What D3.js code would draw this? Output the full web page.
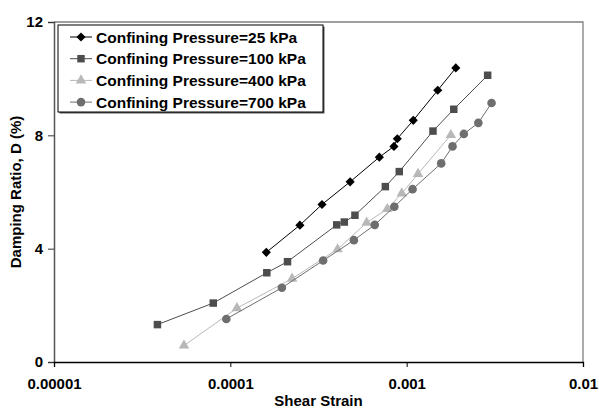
<!DOCTYPE html>
<html><head><meta charset="utf-8">
<script src="https://cdn.jsdelivr.net/npm/d3@7"></script>
<style>body{margin:0;background:#fff}svg{display:block}text{font-family:"Liberation Sans",Arial,sans-serif;font-weight:bold}</style>
</head><body><svg id="c" width="599" height="408"></svg>
<script>
const names = ["Confining Pressure=25 kPa","Confining Pressure=100 kPa","Confining Pressure=400 kPa","Confining Pressure=700 kPa"];
const x25 = [1.60e-4,2.48e-4,3.31e-4,4.78e-4,7.00e-4,8.47e-4,8.85e-4,1.09e-3,1.50e-3,1.90e-3];
const y25 = [3.87,4.83,5.56,6.36,7.23,7.61,7.88,8.53,9.59,10.38];
const x100 = [3.86e-5,8.00e-5,1.61e-4,2.11e-4,4.01e-4,4.43e-4,5.09e-4,7.57e-4,9.08e-4,1.41e-3,1.85e-3,2.88e-3];
const y100 = [1.32,2.08,3.15,3.54,4.84,4.94,5.18,6.19,6.72,8.15,8.92,10.12];
const x400 = [5.46e-5,1.09e-4,2.24e-4,4.06e-4,5.93e-4,7.76e-4,9.38e-4,1.16e-3,1.78e-3];
const y400 = [0.58,1.90,2.94,3.98,4.92,5.40,5.95,6.64,8.01];
const x700 = [9.49e-5,1.96e-4,3.36e-4,5.02e-4,6.59e-4,8.51e-4,1.08e-3,1.57e-3,1.82e-3,2.11e-3,2.55e-3,3.03e-3];
const y700 = [1.52,2.62,3.58,4.30,4.84,5.48,6.10,7.01,7.61,8.05,8.44,9.14];
const xTicks = [0.00001,0.0001,0.001,0.01];
const xTickLabels = ["0.00001","0.0001","0.001","0.01"];
const yTicks = [0,4,8,12];

const series = [
  {name:names[0], xs:x25, ys:y25, color:"#000000", sym:"diamond"},
  {name:names[1], xs:x100, ys:y100, color:"#4d4d4d", sym:"square"},
  {name:names[2], xs:x400, ys:y400, color:"#b8b8b8", sym:"triangle"},
  {name:names[3], xs:x700, ys:y700, color:"#6e6e6e", sym:"circle"}
];

const svg = d3.select("#c");
const L=54, R=583, T=22, B=362;
const x = d3.scaleLog().domain([1e-5,1e-2]).range([L,R]);
const y = d3.scaleLinear().domain([0,12]).range([B,T]);
const FONT = "'Liberation Sans',Arial,sans-serif";

svg.append("path").attr("d",`M${L},${T}H${R}V${B}`).attr("fill","none").attr("stroke","#808080").attr("stroke-width",1.3);

const ya = svg.append("g").attr("transform",`translate(${L},0)`)
  .call(d3.axisLeft(y).tickValues(yTicks).tickSize(6).tickPadding(5).tickFormat(d3.format("d")));
ya.select(".domain").attr("stroke","#555").attr("stroke-width",1.5);
ya.selectAll(".tick line").attr("stroke","#333");
ya.selectAll("text").attr("font-size",15).attr("fill","#000").style("font-family",FONT).style("font-weight","bold");

const xa = svg.append("g").attr("transform",`translate(0,${B})`)
  .call(d3.axisBottom(x).tickValues(xTicks).tickSize(5).tickPadding(11).tickFormat((d,i)=>xTickLabels[i]));
xa.select(".domain").attr("stroke","#000").attr("stroke-width",1.3);
xa.selectAll(".tick line").attr("stroke","#000");
xa.selectAll("text").attr("font-size",15).attr("fill","#000").style("font-family",FONT).style("font-weight","bold");

svg.append("text").attr("x",(L+R)/2).attr("y",406).attr("text-anchor","middle").attr("font-size",15).text("Shear Strain");
svg.append("text").attr("transform",`translate(20.5,${(T+B)/2}) rotate(-90)`).attr("text-anchor","middle").attr("font-size",15).text("Damping Ratio, D (%)");

function sym(s){
  if (s==="diamond") return d3.symbol().type(d3.symbolSquare).size(42)();
  const m = {square:[d3.symbolSquare,56],triangle:[d3.symbolTriangle,48],circle:[d3.symbolCircle,58]}[s];
  return d3.symbol().type(m[0]).size(m[1])();
}
function rot(s){ return s==="diamond" ? " rotate(45)" : ""; }

const line = d3.line().x(d=>x(d[0])).y(d=>y(d[1]));
series.forEach(s=>{
  const pts = s.xs.map((v,i)=>[v,s.ys[i]]);
  svg.append("path").datum(pts).attr("d",line).attr("fill","none").attr("stroke",s.color).attr("stroke-width",1);
  svg.append("g").selectAll("path").data(pts).join("path")
    .attr("transform",d=>`translate(${x(d[0])},${y(d[1])})${rot(s.sym)}`)
    .attr("d",sym(s.sym)).attr("fill",s.color);
});

const lg = svg.append("g");
lg.append("rect").attr("x",59.5).attr("y",26.5).attr("width",265).attr("height",87).attr("fill","#555");
lg.append("rect").attr("x",58).attr("y",25).attr("width",265).attr("height",87).attr("fill","#fff").attr("stroke","#000").attr("stroke-width",1);
series.forEach((s,i)=>{
  const yy = 37 + i*21.7;
  lg.append("line").attr("x1",70).attr("x2",92).attr("y1",yy).attr("y2",yy).attr("stroke",s.color).attr("stroke-width",1);
  lg.append("path").attr("transform",`translate(81,${yy})${rot(s.sym)}`).attr("d",sym(s.sym)).attr("fill",s.color);
  lg.append("text").attr("x",96).attr("y",yy+5.5).attr("font-size",15.5).text(s.name);
});
</script></body></html>
